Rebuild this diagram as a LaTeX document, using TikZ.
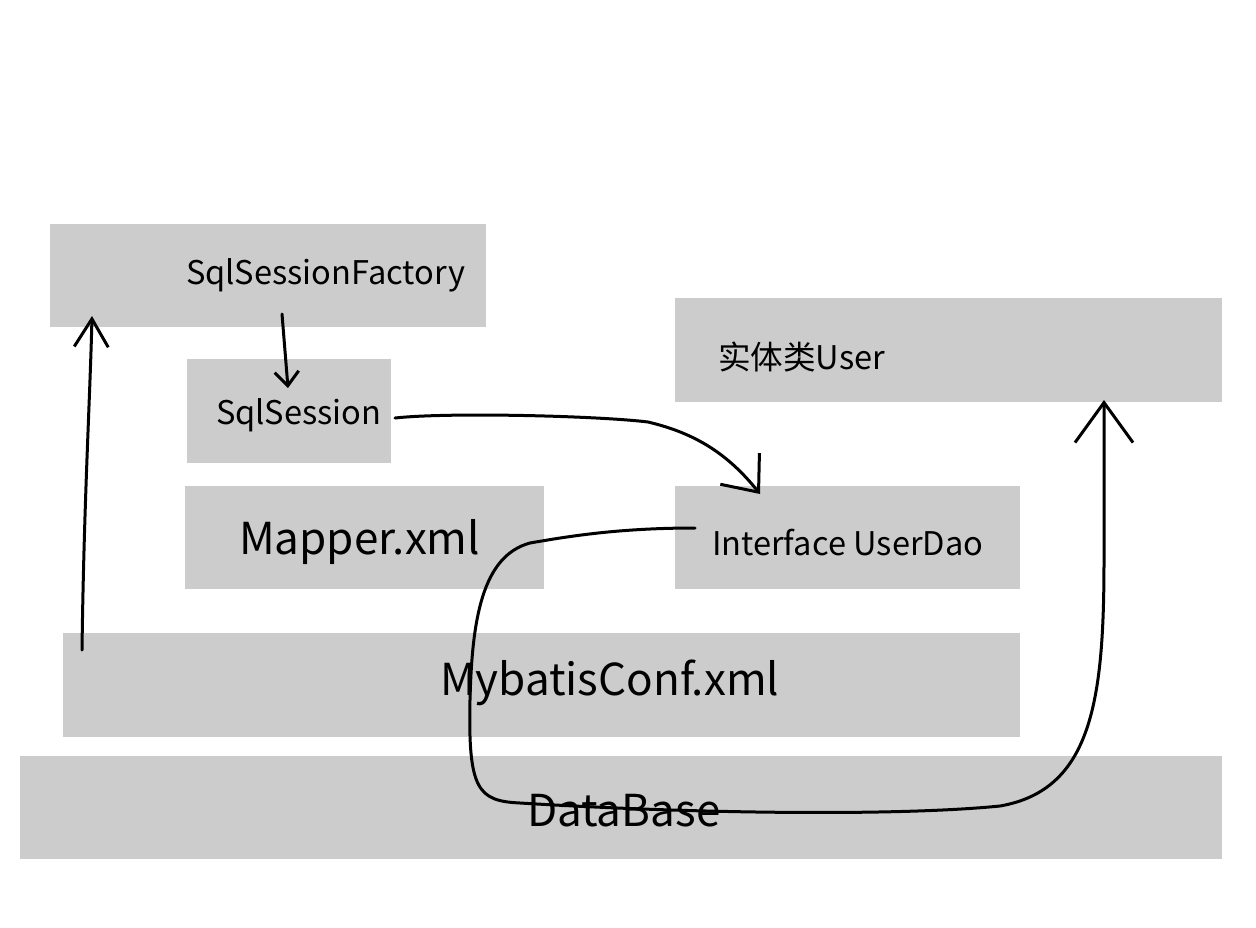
\documentclass[tikz,border=0pt]{standalone}
\usepackage{fontspec}
\setmainfont{Noto Sans CJK SC}
\usetikzlibrary{arrows.meta,calc}
\definecolor{boxgray}{HTML}{CCCCCC}
\tikzset{
  box/.style={fill=boxgray, draw=none, anchor=north west, inner sep=0pt, outer sep=0pt},
  lbl/.style={anchor=base west, inner sep=0pt, outer sep=0pt, text=black},
  smalltxt/.style={font=\fontsize{32.6}{38}\selectfont},
  bigtxt/.style={font=\fontsize{44}{52}\selectfont},
  conn/.style={line width=3pt, line cap=round, line join=round, black},
}
\begin{document}
\begin{tikzpicture}[x=1pt,y=-1pt]
\useasboundingbox[fill=white] (0,0) rectangle (1256,927);
% boxes
\node[box, minimum width=436, minimum height=103] (fac) at (50,224) {};
\node[box, minimum width=204, minimum height=104] (ses) at (187,359) {};
\node[box, minimum width=359, minimum height=103] (map) at (185,486) {};
\node[box, minimum width=547, minimum height=104] (usr) at (675,298) {};
\node[box, minimum width=345, minimum height=103] (dao) at (675,486) {};
\node[box, minimum width=957, minimum height=104] (conf) at (63,633) {};
\node[box, minimum width=1202, minimum height=103] (db) at (20,756) {};
% labels
\node[lbl, smalltxt] (facT) at (186,284) {SqlSessionFactory};
\node[lbl, smalltxt] (sesT) at (216,424) {SqlSession};
\node[lbl, smalltxt] (usrT) at (718,369) {实体类User};
\node[lbl, smalltxt] (daoT) at (712,555) {Interface UserDao};
\node[lbl, bigtxt] (mapT) at (239,554) {Mapper.xml};
\node[lbl, bigtxt] (confT) at (440,695) {MybatisConf.xml};
\node[lbl, bigtxt] (dbT) at (527,826) {DataBase};
% connectors
\draw[conn, -{Straight Barb[length=28pt,width=34pt]}]
  ($(conf.north west)+(19,17)$) .. controls (84,500) and (90,400) .. ($(fac.south west)+(42,-11)$);
\draw[conn, -{Straight Barb[length=14pt,width=24pt]}]
  ($(fac.south west)+(232,-13)$) -- ($(ses.north west)+(101,29)$);
\draw[conn, -{Straight Barb[length=30pt,width=50pt]}]
  ($(ses.east)+(4,7)$) .. controls (450,412) and (600,416) .. (648,422)
  .. controls (690,432) and (725,450) .. ($(dao.north west)+(85,8)$);
\draw[conn, -{Straight Barb[length=40pt,width=58pt]}]
  ($(dao.north west)+(20,42)$) .. controls (620,528) and (570,536) .. (530,543)
  .. controls (482,556) and (472,620) .. (470,700)
  .. controls (468,790) and (478,801) .. (520,803)
  .. controls (700,814) and (900,816) .. (1000,806)
  .. controls (1092,790) and (1104,700) .. (1104,560)
  -- ($(usr.south west)+(429,-2)$);
\end{tikzpicture}
\end{document}
